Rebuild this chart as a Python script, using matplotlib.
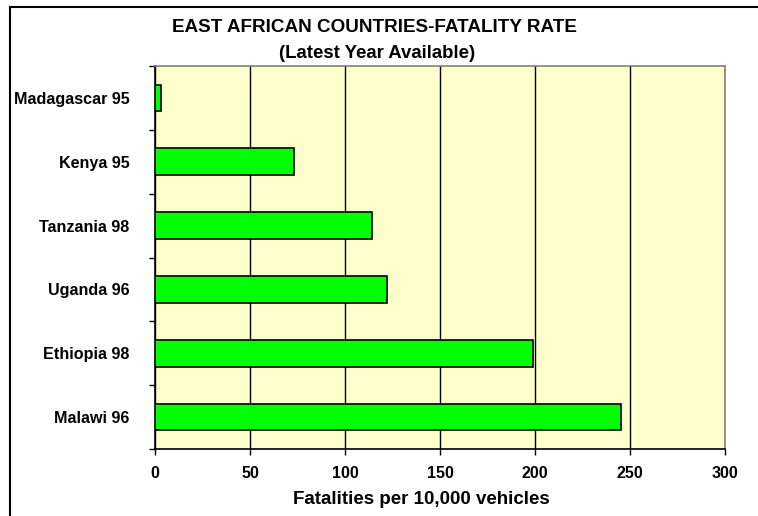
import matplotlib.pyplot as plt
import numpy as np

# fatality rates, top of chart first
countries = ["Madagascar 95", "Kenya 95", "Tanzania 98", "Uganda 96", "Ethiopia 98", "Malawi 96"]
rates = [3, 73, 114, 122, 199, 245]
xticks = [0, 50, 100, 150, 200, 250, 300]

plt.rcParams['font.family'] = ['Liberation Sans', 'DejaVu Sans']
plt.rcParams['font.weight'] = 'bold'

W, H = 758, 516
fig = plt.figure(figsize=(W / 100, H / 100), dpi=100)
ax = fig.add_axes([155 / W, 1 - 449 / H, 570 / W, 383 / H])
ax.set_facecolor("#FFFFCC")

y = np.arange(len(countries))
ax.barh(y, rates, height=0.42, color="#00FF00", edgecolor="black", linewidth=1.2, zorder=3)

ax.set_xlim(0, 300)
ax.set_ylim(len(countries) - 0.5, -0.5)
ax.set_xticks(xticks)
ax.set_xticklabels([str(t) for t in xticks], fontsize=11.5, fontweight="bold")
ax.xaxis.grid(True, color="black", linewidth=1.0, zorder=1)

# category labels sit between the tick marks like an Excel chart
ax.set_yticks(y)
ax.set_yticklabels(countries, fontsize=11.6, fontweight="bold")
ax.set_yticks(np.arange(len(countries) + 1) - 0.5, minor=True)
ax.tick_params(axis="y", which="major", length=0, pad=18.5)
ax.tick_params(axis="y", which="minor", length=4, width=1, direction="out")
ax.tick_params(axis="x", length=4, width=1, direction="out", pad=8)

for side in ["left", "bottom"]:
    ax.spines[side].set_color("black")
    ax.spines[side].set_linewidth(1.2)
for side in ["top", "right"]:
    ax.spines[side].set_color("#808080")
    ax.spines[side].set_linewidth(1.2)

fig.text(421 / W, 1 - 500 / H, "Fatalities per 10,000 vehicles",
         ha="center", va="center", fontsize=13.5, fontweight="bold")

fig.text(374 / W, 1 - 27.5 / H, "EAST AFRICAN COUNTRIES-FATALITY RATE",
         ha="center", va="center", fontsize=13.6, fontweight="bold")
fig.text(377 / W, 1 - 53.5 / H, "(Latest Year Available)",
         ha="center", va="center", fontsize=13.4, fontweight="bold")

# chart frame (left and top edges)
fig.add_artist(plt.Line2D([10 / W, 10 / W], [0, 1 - 7 / H], color="black", linewidth=1.5))
fig.add_artist(plt.Line2D([10 / W, 1], [1 - 7 / H, 1 - 7 / H], color="black", linewidth=1.5))

fig.savefig("out.png", dpi=100)
